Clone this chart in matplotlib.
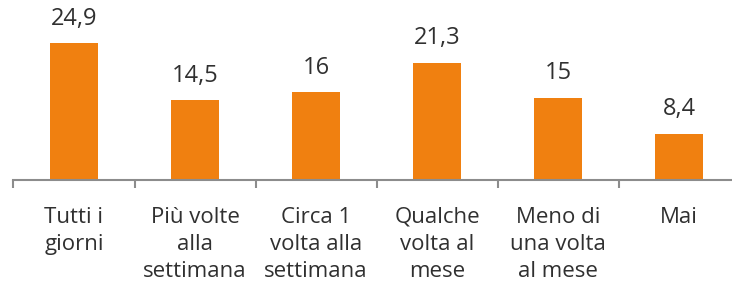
import matplotlib
matplotlib.use('Agg')
import matplotlib.pyplot as plt

categories = ["Tutti i\ngiorni", "Più volte\nalla\nsettimana", "Circa 1\nvolta alla\nsettimana",
              "Qualche\nvolta al\nmese", "Meno di\nuna volta\nal mese", "Mai"]
values = [24.9, 14.5, 16, 21.3, 15, 8.4]
value_labels = ["24,9", "14,5", "16", "21,3", "15", "8,4"]

bar_color = "#F08010"
text_color = "#303030"
axis_color = "#8c8c8c"
font = "Open Sans"

fig = plt.figure(figsize=(7.32, 2.91), dpi=100)
ax = fig.add_axes([13.5 / 732, 111 / 291, 726 / 732, 180 / 291])

x = list(range(len(values)))
ax.bar(x, values, width=0.4, color=bar_color, zorder=2)
ax.set_xlim(-0.5, 5.5)
ax.set_ylim(0, 180 / 5.5)

for xi, v, lab in zip(x, values, value_labels):
    ax.annotate(lab, (xi, v), xytext=(0, 9), textcoords="offset points",
                ha="center", va="bottom", fontsize=17, color=text_color, family=font)

for xi, lab in zip(x, categories):
    ax.text(xi, -0.15, lab, transform=ax.get_xaxis_transform(), ha="center", va="top",
            fontsize=16, color=text_color, family=font, linespacing=1.38)

# axis line + tick marks between categories
for side in ["top", "right", "left"]:
    ax.spines[side].set_visible(False)
ax.spines["bottom"].set_color(axis_color)
ax.spines["bottom"].set_linewidth(1.5)
ax.set_yticks([])
ax.set_xticks([i - 0.5 for i in range(len(values) + 1)])
ax.set_xticklabels([])
ax.tick_params(axis="x", direction="out", length=6, width=1.5, color=axis_color)

fig.savefig("out.png", dpi=100)
